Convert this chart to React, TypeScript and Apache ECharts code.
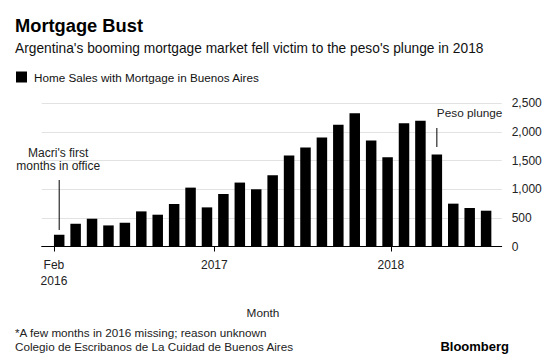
import React, { useEffect, useRef } from "react";
import * as echarts from "echarts";

// Home sales with mortgage in Buenos Aires, one bar per month (Feb 2016 onward, some 2016 months missing)
const salesValues = [
  204, 397, 485, 368, 415, 613, 555, 742, 1028, 683, 917, 1116, 999, 1244,
  1589, 1729, 1904, 2126, 2325, 1852, 1560, 2150, 2196, 1606, 748, 672, 625,
];
// x-axis tick labels and their positions (in bar-index units)
const xTickLabels = ["Feb\n2016", "2017", "2018"];
const xTickPositions = [-0.32, 9.45, 20.2];
// y-axis range
const yMin = 0;
const yMax = 2500;
const yInterval = 500;

const FONT = "'Liberation Sans', Arial, Helvetica, sans-serif";

export default function App() {
  const ref = useRef<HTMLDivElement>(null);
  useEffect(() => {
    document.body.style.margin = "0";
    const chart = echarts.init(ref.current!, null, { renderer: "svg" });
    const option: any = {
      animation: false,
      backgroundColor: "#fff",
      textStyle: { fontFamily: FONT },
      grid: { left: 41.7, right: 58.3, top: 103.3, bottom: 114.5 },
      legend: {
        left: 11,
        top: 66,
        icon: "rect",
        itemWidth: 11,
        itemHeight: 11,
        textStyle: { fontSize: 11.7, color: "#111", fontFamily: FONT, padding: [0, 0, 0, 2] },
        data: ["Home Sales with Mortgage in Buenos Aires"],
      },
      xAxis: {
        type: "value",
        min: -1.066,
        max: 26.95,
        splitLine: { show: false },
        axisLine: { show: true, lineStyle: { color: "#000", width: 1 } },
        axisTick: {
          show: true,
          customValues: xTickPositions,
          length: 5,
          lineStyle: { color: "#000" },
        },
        axisLabel: {
          customValues: xTickPositions,
          color: "#222",
          fontSize: 12,
          lineHeight: 16,
          margin: 10,
          formatter: (v: number) => {
            const i = xTickPositions.findIndex((p) => Math.abs(p - v) < 1e-6);
            return i >= 0 ? xTickLabels[i] : "";
          },
        },
      },
      yAxis: {
        type: "value",
        position: "right",
        min: yMin,
        max: yMax,
        interval: yInterval,
        axisLine: { show: false },
        axisTick: { show: false },
        splitLine: { lineStyle: { color: "#e2e2e2", width: 1 } },
        axisLabel: {
          margin: 10,
          color: "#222",
          fontSize: 12,
          formatter: (v: number) => v.toLocaleString("en-US"),
        },
      },
      series: [
        {
          name: "Home Sales with Mortgage in Buenos Aires",
          type: "bar",
          barWidth: 10.5,
          itemStyle: { color: "#000" },
          silent: true,
          data: salesValues.map((v, i) => [i, v]),
        },
      ],
    };
    chart.setOption(option);

    const p = (x: number, y: number) => chart.convertToPixel({ gridIndex: 0 }, [x, y]) as number[];
    const macriTop = p(0, 1161);
    const macriBot = p(0, 288);
    const pesoIdx = 23;
    const pesoTop = p(pesoIdx, 2069);
    const pesoBot = p(pesoIdx, 1737);

    chart.setOption({
      graphic: [
        {
          type: "text",
          left: 15,
          top: 16,
          style: { text: "Mortgage Bust", font: `bold 18.3px ${FONT}`, fill: "#000" },
        },
        {
          type: "text",
          left: 15,
          top: 41,
          style: {
            text: "Argentina's booming mortgage market fell victim to the peso's plunge in 2018",
            font: `13.75px ${FONT}`,
            fill: "#111",
          },
        },
        {
          type: "line",
          shape: { x1: macriTop[0], y1: macriTop[1], x2: macriBot[0], y2: macriBot[1] },
          style: { stroke: "#000", lineWidth: 1 },
        },
        {
          type: "text",
          x: macriTop[0] - 1,
          y: 159.5,
          style: {
            text: "Macri's first\nmonths in office",
            font: `12px ${FONT}`,
            fill: "#222",
            align: "center",
            verticalAlign: "middle",
            lineHeight: 13.5,
          },
        },
        {
          type: "line",
          shape: { x1: pesoTop[0], y1: pesoTop[1], x2: pesoBot[0], y2: pesoBot[1] },
          style: { stroke: "#000", lineWidth: 1 },
        },
        {
          type: "text",
          x: pesoTop[0],
          y: 113,
          style: {
            text: "Peso plunge",
            font: `11.8px ${FONT}`,
            fill: "#222",
            align: "left",
            verticalAlign: "middle",
          },
        },
        {
          type: "text",
          x: 263,
          y: 312.5,
          style: { text: "Month", font: `11.8px ${FONT}`, fill: "#222", align: "center", verticalAlign: "middle" },
        },
        {
          type: "text",
          x: 15,
          y: 332.5,
          style: {
            text: "*A few months in 2016 missing; reason unknown",
            font: `11.7px ${FONT}`,
            fill: "#222",
            verticalAlign: "middle",
          },
        },
        {
          type: "text",
          x: 15,
          y: 346.5,
          style: {
            text: "Colegio de Escribanos de La Cuidad de Buenos Aires",
            font: `11.7px ${FONT}`,
            fill: "#222",
            verticalAlign: "middle",
          },
        },
        {
          type: "text",
          x: 509,
          y: 346.5,
          style: {
            text: "Bloomberg",
            font: `bold 13px ${FONT}`,
            fill: "#000",
            align: "right",
            verticalAlign: "middle",
          },
        },
      ],
    });
    return () => chart.dispose();
  }, []);
  return <div ref={ref} style={{ width: 560, height: 361 }} />;
}
